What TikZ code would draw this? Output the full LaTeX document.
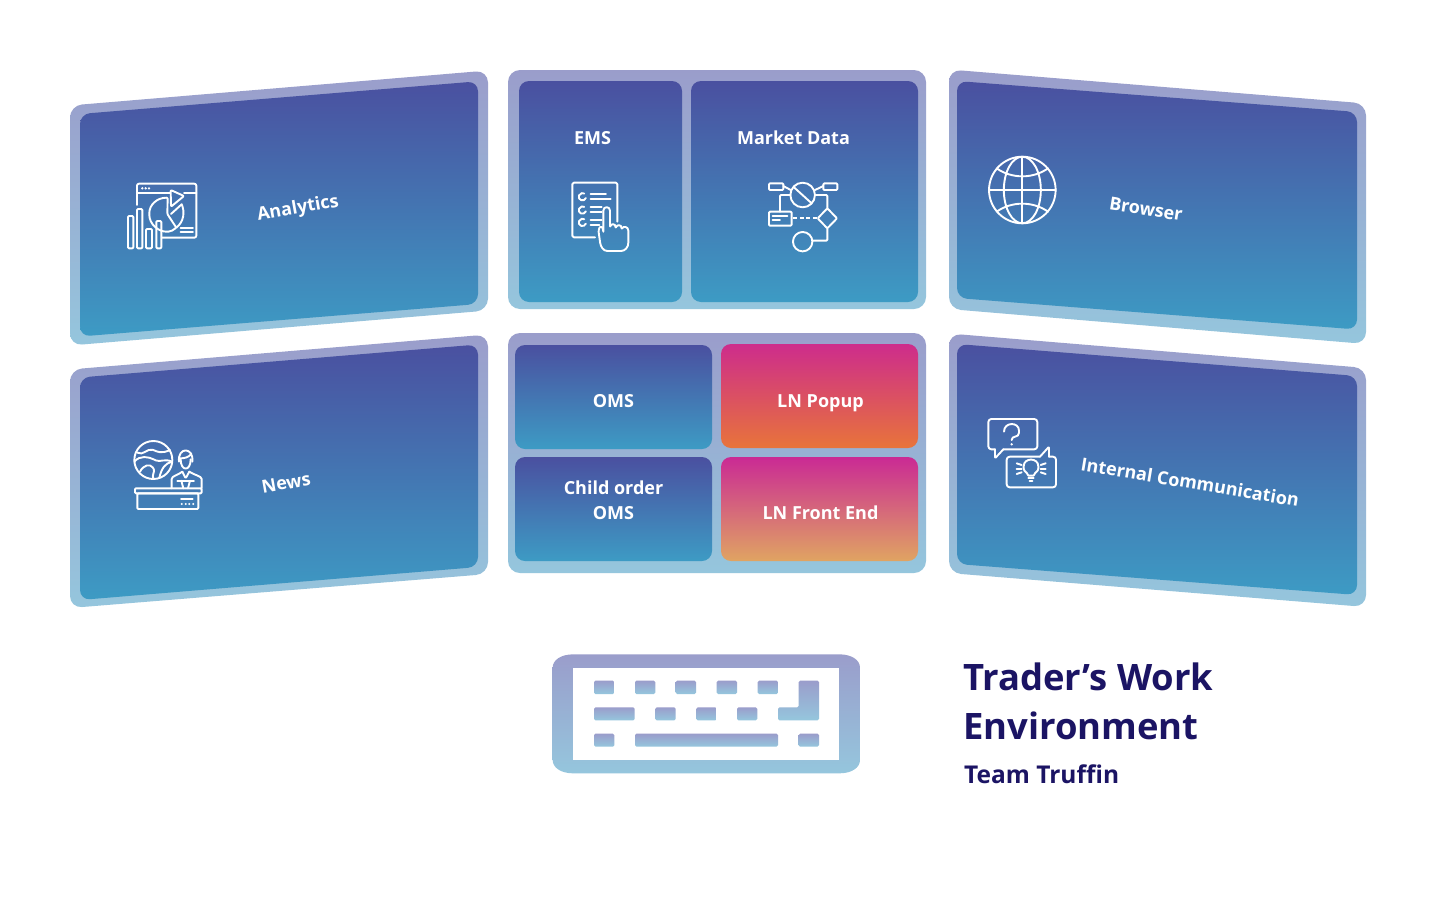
\documentclass[tikz,border=0pt]{standalone}
\usepackage{fontspec}
\setmainfont{Open Sans}
\definecolor{outT}{HTML}{9A9DCB}
\definecolor{outB}{HTML}{95C6DD}
\definecolor{inT}{HTML}{4A50A0}
\definecolor{inB}{HTML}{3D9BC4}
\definecolor{popT}{HTML}{CD2C8C}
\definecolor{popB}{HTML}{E8743A}
\definecolor{frT}{HTML}{CA2A94}
\definecolor{frB}{HTML}{E0A462}
\definecolor{navy}{HTML}{1B1464}
\tikzset{
  outerp/.style={top color=outT,bottom color=outB,draw=none,rounded corners=12pt},
  innerp/.style={top color=inT,bottom color=inB,draw=none,rounded corners=10pt},
  popp/.style={top color=popT,bottom color=popB,draw=none,rounded corners=10pt},
  frp/.style={top color=frT,bottom color=frB,draw=none,rounded corners=10pt},
  keyp/.style={top color=outT,bottom color=outB,draw=none,rounded corners=1.5pt},
  lab/.style={text=white,font=\bfseries\fontsize{18}{25}\selectfont,align=center,inner sep=0pt},
  ttl/.style={text=navy,font=\bfseries\fontsize{36.4}{49}\selectfont,anchor=west,align=left,inner sep=0pt},
  ic/.style={draw=white,line width=1.9pt,line cap=round,line join=round,rounded corners=1pt},
  iconbox/.style={shift={#1},x=0.33333pt,y=-0.33333pt}
}
\begin{document}
\begin{tikzpicture}[x=1pt,y=-1pt]
\path[fill=white] (0,0) rectangle (1440,900);
\useasboundingbox (0,0) rectangle (1440,900);
% left panels
\path[outerp] (70,105.5) -- (488,70.5) -- (488,310.5) -- (70,345.5) -- cycle;
\path[innerp] (80,114) -- (478,81.3) -- (478,304) -- (80,336.5) -- cycle;
\path[outerp] (70,369.5) -- (488,334.5) -- (488,574) -- (70,608) -- cycle;
\path[innerp] (80,377.5) -- (478,344.5) -- (478,567) -- (80,600) -- cycle;
% right panels
\path[outerp] (949,69.5) -- (1366,103.5) -- (1366,344) -- (949,309) -- cycle;
\path[innerp] (957,81) -- (1357,112) -- (1357,329.5) -- (957,298) -- cycle;
\path[outerp] (949,333.5) -- (1366,368) -- (1366,607) -- (949,573) -- cycle;
\path[innerp] (957,344) -- (1357,376) -- (1357,595) -- (957,564) -- cycle;
% middle panels
\path[outerp] (508,70) rectangle (926,309);
\path[innerp] (519,81) rectangle (682,302);
\path[innerp] (691,81) rectangle (918,302);
\path[outerp] (508,333) rectangle (926,573);
\path[innerp] (515,345) rectangle (712,449);
\path[popp] (721,344) rectangle (918,448);
\path[innerp] (515,457) rectangle (712,561);
\path[frp] (721,457) rectangle (918,561);
% labels
\node[lab,rotate=10] (analytics) at (298,209) {Analytics};
\node[lab,rotate=10] (news) at (286,483) {News};
\node[lab,rotate=-9] (browser) at (1146,209) {Browser};
\node[lab,rotate=-9.5] (internal) at (1190,482) {Internal Communication};
\node[lab] (ems) at (592.5,138.5) {EMS};
\node[lab] (market) at (793.5,137.5) {Market Data};
\node[lab] (oms) at (613.5,401) {OMS};
\node[lab] (popup) at (820.5,403) {LN Popup};
\node[lab] (child) at (613.5,500.5) {Child order\\OMS};
\node[lab] (front) at (820.5,512.5) {LN Front End};
\node[ttl] (title) at (963,701.5) {Trader’s Work\\Environment};
\node[text=navy,font=\bfseries\fontsize{24.5}{30}\selectfont,anchor=west,inner sep=0pt] (team) at (964,774) {Team Truffin};
% analytics icon
\begin{scope}[iconbox={(60pt,-60pt)}]
\draw[ic,rounded corners=2pt] (231,435) -- (231,371) -- (409,371) -- (409,533) -- (306,533);
\draw[ic] (231,399) -- (330,399);
\draw[ic] (372,399) -- (409,399);
\foreach \q in {247,257,267} \fill[white] (\q,385) circle (1.3pt);
\draw[ic] (332,390) -- (372,408) -- (333,440) -- cycle;
\draw[ic] (323,413) .. controls (290,413) and (268,435) .. (268,462) .. controls (268,492) and (295,515) .. (322,515) .. controls (332,515) and (340,510) .. (349,503) -- (322,462) -- cycle;
\draw[ic] (365,433) .. controls (375,455) and (372,485) .. (349,503);
\draw[ic] (333,462) -- (365,433);
\draw[ic] (204,468) rectangle (220,565);
\draw[ic] (231,447) rectangle (247,565);
\draw[ic] (258,507) rectangle (276,565);
\draw[ic] (289,483) rectangle (304,565);
\draw[ic] (362,503) -- (399,503);
\draw[ic] (362,517) -- (399,517);
\end{scope}
% EMS icon
\begin{scope}[iconbox={(550pt,-170pt)}]
\draw[ic,rounded corners=1.5pt] (135,202) -- (67,202) -- (67,38) -- (202,38) -- (202,155);
\foreach \q in {80,120,157} \draw[ic] (107.5,\q+4) arc[start angle=20,end angle=300,radius=11];
\draw[ic] (122,73) -- (168,73);
\draw[ic] (122,87) -- (182,87);
\draw[ic] (122,110) -- (155,110);
\draw[ic] (122,125) -- (155,125);
\draw[ic] (122,150) -- (155,150);
\draw[ic] (122,165) -- (148,165);
\draw[ic] (160,185) -- (160,125) .. controls (160,108) and (180,108) .. (180,125) -- (180,172) .. controls (183,160) and (197,160) .. (197,175) .. controls (200,163) and (215,163) .. (215,178) .. controls (220,167) and (235,170) .. (235,185) -- (235,215) .. controls (235,232) and (225,243) .. (210,243) -- (175,243) .. controls (160,243) and (152,230) .. (150,215) .. controls (148,200) and (145,185) .. (147,178) .. controls (149,168) and (160,168) .. (160,185);
\end{scope}
% Market Data icon
\begin{scope}[iconbox={(550pt,-170pt)}]
\draw[ic] (657,40) rectangle (700,60);
\draw[ic] (820,40) rectangle (862,60);
\draw[ic] (758,75) circle (12.3pt);
\draw[ic] (732,52) -- (785,100);
\draw[ic] (700,48) -- (722,60);
\draw[ic] (820,48) -- (795,60);
\draw[ic] (722,75) -- (690,75) -- (690,125);
\draw[ic] (795,75) -- (832,75) -- (832,115);
\draw[ic] (657,125) rectangle (725,167);
\draw[ic] (668,137) -- (712,137);
\draw[ic] (668,150) -- (690,150);
\draw[ic,dash pattern=on 4pt off 2.5pt,line cap=butt] (730,145) -- (802,145);
\draw[ic] (832,115) -- (861,145) -- (832,175) -- (803,145) -- cycle;
\draw[ic] (832,175) -- (832,212) -- (787,212);
\draw[ic] (758,215) circle (9.7pt);
\end{scope}
% globe icon
\begin{scope}[iconbox={(975pt,-145pt)}]
\draw[ic] (142,135) circle (33.3pt);
\draw[ic] (142,135) ellipse [x radius=18.5pt,y radius=33.3pt];
\draw[ic] (142,35) -- (142,235);
\draw[ic] (42,135) -- (242,135);
\draw[ic] (65,70) .. controls (110,102) and (174,102) .. (219,70);
\draw[ic] (65,200) .. controls (110,168) and (174,168) .. (219,200);
\end{scope}
% news icon
\begin{scope}[iconbox={(120pt,-430pt)}]
\draw[ic] (100,90) circle (19pt);
\draw[ic] (52,68) .. controls (70,78) and (80,55) .. (100,60) .. controls (112,65) and (125,72) .. (150,60);
\draw[ic] (43,95) .. controls (60,75) and (85,80) .. (105,90) .. controls (120,97) and (135,85) .. (156,95);
\draw[ic] (60,125) .. controls (70,105) and (90,100) .. (100,115) .. controls (105,125) and (95,135) .. (100,147);
\draw[ic] (156,95) .. controls (135,100) and (125,115) .. (118,143);
\draw[ic] (177,95) .. controls (172,50) and (222,50) .. (217,95);
\draw[ic] (180,85) .. controls (195,85) and (205,82) .. (214,72);
\draw[ic] (182,88) .. controls (182,125) and (212,125) .. (212,88);
\draw[ic] (155,175) -- (155,150) .. controls (155,138) and (175,135) .. (187,125);
\draw[ic] (245,175) -- (245,150) .. controls (245,138) and (222,135) .. (208,125);
\draw[ic] (187,125) -- (197,145) -- (208,125);
\draw[ic] (172,152) -- (222,152);
\draw[ic] (184,152) -- (190,175);
\draw[ic] (210,152) -- (204,175);
\draw[ic] (45,175) rectangle (245,190);
\draw[ic] (52,190) rectangle (235,237);
\draw[ic] (183,207) -- (218,207);
\foreach \q in {185,197,208,220} \fill[white] (\q,222) circle (1.1pt);
\end{scope}
% chat icon
\begin{scope}[iconbox={(975pt,-410pt)}]
\draw[ic,rounded corners=3pt] (60,118) -- (40,118) -- (40,27) -- (187,27) -- (187,118) -- (85,118);
\draw[ic] (85,118) -- (60,145) -- (60,118);
\draw[ic] (87,65) .. controls (87,35) and (132,35) .. (132,65) .. controls (132,85) and (110,75) .. (110,90);
\fill[white] (110,103) circle (1.3pt);
\draw[ic,rounded corners=3pt] (195,140) -- (95,140) -- (95,232) -- (243,232) -- (243,140) -- (222,140);
\draw[ic] (195,140) -- (222,110) -- (222,140);
\draw[ic] (158,197) .. controls (158,188) and (146,185) .. (146,172) .. controls (146,142) and (190,142) .. (190,172) .. controls (190,185) and (178,188) .. (178,197) -- cycle;
\draw[ic] (160,205) -- (176,205);
\draw[ic] (164,213) -- (172,213);
\draw[ic] (125,160) -- (140,165);
\draw[ic] (125,178) -- (140,178);
\draw[ic] (125,192) -- (140,187);
\draw[ic] (197,165) -- (212,160);
\draw[ic] (197,178) -- (212,178);
\draw[ic] (197,187) -- (212,192);
\end{scope}
% keyboard
\begin{scope}[iconbox={(540pt,-645pt)}]
\path[top color=outT,bottom color=outB,draw=none] (100,28) -- (898,28) .. controls (935,28) and (960,45) .. (960,68) -- (960,345) .. controls (960,368) and (935,385) .. (898,385) -- (100,385) .. controls (63,385) and (38,368) .. (38,345) -- (38,68) .. controls (38,45) and (63,28) .. (100,28) -- cycle;
\path[fill=white] (100,68) rectangle (898,345);
\foreach \a/\b in {162/223,285/346,407/468,530/591,653/714} \path[keyp] (\a,107) rectangle (\b,147);
\foreach \a/\b in {162/284,346/407,469/530,591/652} \path[keyp] (\a,187) rectangle (\b,226);
\foreach \a/\b in {162/223,285/714,776/837} \path[keyp] (\a,266) rectangle (\b,305);
\path[keyp] (776,107) -- (837,107) -- (837,226) -- (714,226) -- (714,187) -- (776,187) -- cycle;
\end{scope}
\end{tikzpicture}
\end{document}
